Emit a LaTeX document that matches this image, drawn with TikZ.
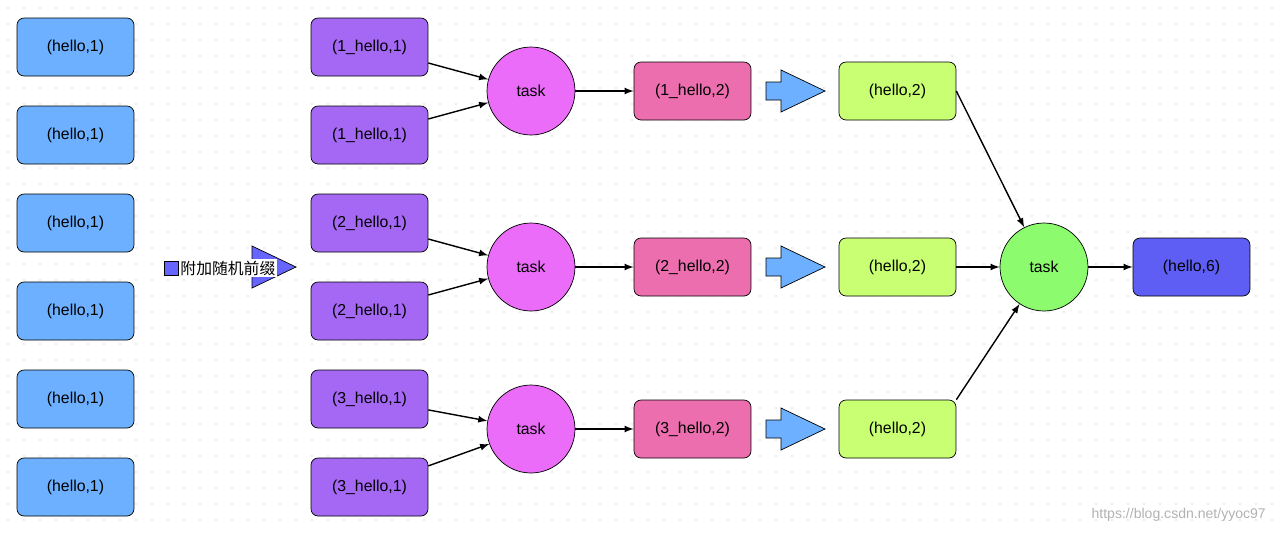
\documentclass[tikz,border=0pt]{standalone}
\usepackage{fontspec}
\setmainfont{Liberation Sans}
\newfontfamily\cjk{Noto Sans CJK SC}
\usetikzlibrary{positioning}
\definecolor{srcblue}{RGB}{108,176,255}
\definecolor{prepurple}{RGB}{164,104,245}
\definecolor{taskpink}{RGB}{236,108,250}
\definecolor{midpink}{RGB}{236,110,174}
\definecolor{resgreen}{RGB}{200,255,115}
\definecolor{fingreen}{RGB}{140,252,110}
\definecolor{outblue}{RGB}{94,94,245}
\definecolor{tagblue}{RGB}{102,102,255}
\tikzset{
	box/.style={draw, rounded corners=4pt, minimum width=2.34cm, minimum height=1.16cm, font=\small},
	task/.style={draw, circle, minimum size=1.76cm, font=\small},
	flow/.style={-latex, thick}
}
\begin{document}
\begin{tikzpicture}[x=0.02cm, y=-0.02cm]

	\useasboundingbox (0,0) rectangle (1279,532);
	\foreach \i in {8,24,...,1279}
		\foreach \j in {8,24,...,532}
			\fill[black!15] (\i,\j) circle (0.45pt);

	% source records
	\foreach \y [count=\k] in {47,135,223,311,399,487}
		\node[box, fill=srcblue] (src\k) at (75.5,\y) {(hello,1)};

	% prefix tag
	\node[draw, fill=tagblue, minimum size=0.28cm, inner sep=0pt] (tagsq) at (171,268) {};
	\draw[fill=tagblue] (252,246) -- (296,267) -- (252,288) -- cycle;
	\node[right=0pt of tagsq, font=\cjk\small, inner sep=1pt, fill=white] (tagtxt) {附加随机前缀};

	% prefixed records
	\node[box, fill=prepurple] (p1) at (369.5,47) {(1\_hello,1)};
	\node[box, fill=prepurple] (p2) at (369.5,135) {(1\_hello,1)};
	\node[box, fill=prepurple] (p3) at (369.5,223) {(2\_hello,1)};
	\node[box, fill=prepurple] (p4) at (369.5,311) {(2\_hello,1)};
	\node[box, fill=prepurple] (p5) at (369.5,399) {(3\_hello,1)};
	\node[box, fill=prepurple] (p6) at (369.5,487) {(3\_hello,1)};

	% first stage
	\node[task, fill=taskpink] (t1) at (531,91) {task};
	\node[task, fill=taskpink] (t2) at (531,267) {task};
	\node[task, fill=taskpink] (t3) at (531,429) {task};
	\node[box, fill=midpink] (m1) at (692.5,91) {(1\_hello,2)};
	\node[box, fill=midpink] (m2) at (692.5,267) {(2\_hello,2)};
	\node[box, fill=midpink] (m3) at (692.5,429) {(3\_hello,2)};

	\foreach \a/\b in {p1/t1, p2/t1, p3/t2, p4/t2, p5/t3, p6/t3, t1/m1, t2/m2, t3/m3}
		\draw[flow] (\a) -- (\b);

	% block arrows
	\foreach \y in {91,267,429}
		\draw[fill=srcblue] (766,\y-9) -- (781,\y-9) -- (781,\y-21) -- (825,\y)
			-- (781,\y+21) -- (781,\y+9) -- (766,\y+9) -- cycle;

	% second stage
	\node[box, fill=resgreen] (g1) at (897.5,91) {(hello,2)};
	\node[box, fill=resgreen] (g2) at (897.5,267) {(hello,2)};
	\node[box, fill=resgreen] (g3) at (897.5,429) {(hello,2)};
	\node[task, fill=fingreen] (tf) at (1044,267) {task};
	\node[box, fill=outblue] (out) at (1191.5,267) {(hello,6)};

	\draw[flow] (g1.east) -- (tf);
	\draw[flow] (g2) -- (tf);
	\draw[flow] (g3.north east) -- (tf);
	\draw[flow] (tf) -- (out);

	\node[anchor=south east, font=\footnotesize, text=black!30] (mark) at (1272,528) {https://blog.csdn.net/yyoc97};
\end{tikzpicture}
\end{document}
